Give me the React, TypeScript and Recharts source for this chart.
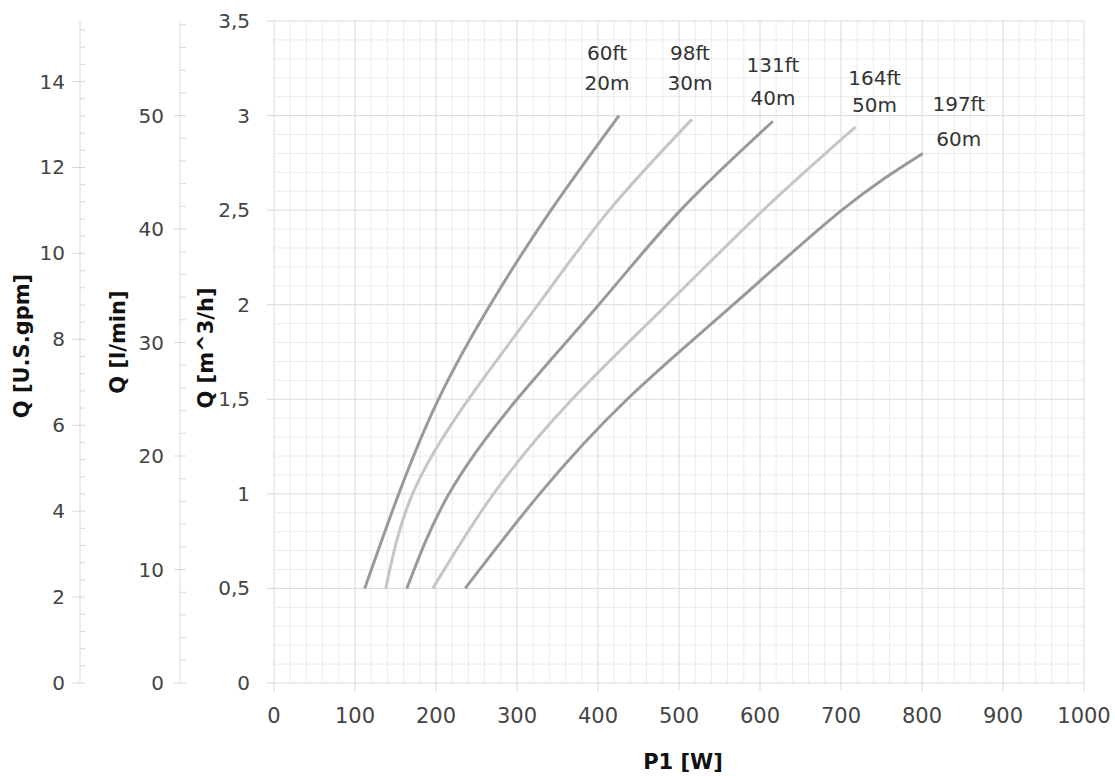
import React from 'react'
import { LineChart, Line, XAxis, YAxis, ReferenceLine } from 'recharts'

type Pt = { w: number; q: number }

// P1 [W] against Q [m^3/h], one curve per head
const curve20m: Pt[] = [
  { w: 112, q: 0.5 }, { w: 154, q: 1.0 }, { w: 203, q: 1.5 },
  { w: 267, q: 2.0 }, { w: 342, q: 2.5 }, { w: 426, q: 3.0 },
]
const curve30m: Pt[] = [
  { w: 138, q: 0.5 }, { w: 171, q: 1.0 }, { w: 240, q: 1.5 },
  { w: 326, q: 2.0 }, { w: 414, q: 2.5 }, { w: 516, q: 2.98 },
]
const curve40m: Pt[] = [
  { w: 164, q: 0.5 }, { w: 216, q: 1.0 }, { w: 300, q: 1.5 },
  { w: 401, q: 2.0 }, { w: 502, q: 2.5 }, { w: 616, q: 2.97 },
]
const curve50m: Pt[] = [
  { w: 196, q: 0.5 }, { w: 271, q: 1.0 }, { w: 368, q: 1.5 },
  { w: 485, q: 2.0 }, { w: 604, q: 2.5 }, { w: 718, q: 2.94 },
]
const curve60m: Pt[] = [
  { w: 236, q: 0.5 }, { w: 328, q: 1.0 }, { w: 436, q: 1.5 },
  { w: 567, q: 2.0 }, { w: 701, q: 2.5 }, { w: 801, q: 2.8 },
]

const curves = [curve20m, curve30m, curve40m, curve50m, curve60m]
const headFt = ['60ft', '98ft', '131ft', '164ft', '197ft']
const headM = ['20m', '30m', '40m', '50m', '60m']

const wTicks = [0, 100, 200, 300, 400, 500, 600, 700, 800, 900, 1000]
const m3Ticks = [0, 0.5, 1, 1.5, 2, 2.5, 3, 3.5]
const lminTicks = [0, 10, 20, 30, 40, 50]
const gpmTicks = [0, 2, 4, 6, 8, 10, 12, 14]

// 1 m^3/h = 16.667 l/min = 4.403 US gpm
const Q_MAX = 3.5
const LMIN_MAX = 58.333
const GPM_MAX = 15.41

const steps = (from: number, to: number, step: number) => {
  const out: number[] = []
  for (let v = from; v <= to + 1e-9; v += step) out.push(Math.round(v * 1000) / 1000)
  return out
}
const gridW = steps(0, 1000, 20)
const gridQ = steps(0, 3.5, 0.1)
const lminMinor = steps(0, 58, 2)
const gpmMinor = steps(0, 15.2, 0.4)

// styles
const curveColors = ['#9a9a9a', '#c6c6c6', '#9a9a9a', '#c6c6c6', '#9a9a9a']
const labelOffsets = [
  [-12, -63, -33],
  [-2, -66, -36],
  [0, -56, -23],
  [19, -49, -22],
  [36, -49, -14],
]
const FONT = '"DejaVu Sans", sans-serif'
const isMajor = (list: number[], v: number) => list.some((m) => Math.abs(m - v) < 1e-6)
const comma = (v: number) => String(v).replace('.', ',')

function axisTick(majors: number[], fmt: (v: number) => string, majIn: number, majOut: number, minOut: number, gap: number) {
  return (props: any) => {
    const { x, y, payload } = props
    const v = payload.value
    const major = isMajor(majors, v)
    return (
      <g>
        <line x1={x - (major ? majIn : 0)} x2={x + (major ? majOut : minOut)} y1={y} y2={y} stroke="#d8d8d8" />
        {major && (
          <text x={x - gap} y={y} textAnchor="end" dominantBaseline="central" fontSize={20} fontFamily={FONT} fill="#444">
            {fmt(v)}
          </text>
        )}
      </g>
    )
  }
}

function axisTitle(text: string, dx: number, dy: number) {
  return (props: any) => {
    const vb = props.viewBox
    const cx = vb.x + dx
    const cy = vb.y + vb.height / 2 + dy
    return (
      <text x={cx} y={cy} transform={`rotate(-90 ${cx} ${cy})`} textAnchor="middle" dominantBaseline="central"
        fontSize={21} fontWeight="bold" fontFamily={FONT} fill="#111">
        {text}
      </text>
    )
  }
}

function headLabel(i: number, last: number) {
  return (props: any) => {
    const { x, y, index } = props
    if (index !== last) return null
    const [dx, dy1, dy2] = labelOffsets[i]
    return (
      <g fontSize={20} fontFamily={FONT} fill="#333" textAnchor="middle">
        <text x={x + dx} y={y + dy1} dominantBaseline="central">{headFt[i]}</text>
        <text x={x + dx} y={y + dy2} dominantBaseline="central">{headM[i]}</text>
      </g>
    )
  }
}

export default function App() {
  return (
    <div style={{ position: 'absolute', left: 0, top: 0 }}>
      <LineChart width={1115} height={776} margin={{ top: 21, right: 31, bottom: 33, left: 0 }} style={{ fontFamily: FONT }}>
        <XAxis
          xAxisId="w" dataKey="w" type="number" domain={[0, 1000]} ticks={wTicks} allowDataOverflow
          axisLine={false} tickSize={8} tickMargin={17} tickLine={{ stroke: '#d8d8d8' }}
          tick={{ fill: '#444', fontSize: 21, fontFamily: FONT }} height={60}
          label={(p: any) => (
            <text x={p.viewBox.x + p.viewBox.width / 2 + 4} y={p.viewBox.y + 86} textAnchor="middle"
              fontSize={21} fontWeight="bold" fontFamily={FONT} fill="#111">P1 [W]</text>
          )}
        />
        {/* left axes are stacked by id: a_ next to the plot, c_ outermost */}
        <YAxis
          yAxisId="a_m3" type="number" domain={[0, Q_MAX]} ticks={m3Ticks} allowDataOverflow width={94}
          axisLine={false} tickLine={false} tickSize={0} tickMargin={0}
          tick={axisTick(m3Ticks, comma, 7, 0, 0, 24)}
          label={axisTitle('Q [m^3/h]', 26, -4)}
        />
        <YAxis
          yAxisId="b_lmin" type="number" domain={[0, LMIN_MAX]} ticks={lminMinor} allowDataOverflow width={100}
          axisLine={{ stroke: '#dcdcdc' }} tickLine={false} tickSize={0} tickMargin={0} interval={0}
          tick={axisTick(lminTicks, String, 6, 6, 6, 16)}
          label={axisTitle('Q [l/min]', 38, -10)}
        />
        <YAxis
          yAxisId="c_gpm" type="number" domain={[0, GPM_MAX]} ticks={gpmMinor} allowDataOverflow width={80}
          axisLine={{ stroke: '#dcdcdc' }} tickLine={false} tickSize={0} tickMargin={0} interval={0}
          tick={axisTick(gpmTicks, String, 8, 5, 5, 15)}
          label={axisTitle('Q [U.S.gpm]', 22, -6)}
        />

        {gridW.filter((v) => !isMajor(wTicks, v)).map((v) => (
          <ReferenceLine key={'vx' + v} xAxisId="w" yAxisId="a_m3" x={v} stroke="#ececec" strokeWidth={1} />
        ))}
        {gridQ.filter((v) => !isMajor(m3Ticks, v)).map((v) => (
          <ReferenceLine key={'hy' + v} xAxisId="w" yAxisId="a_m3" y={v} stroke="#ececec" strokeWidth={1} />
        ))}
        {wTicks.map((v) => (
          <ReferenceLine key={'VX' + v} xAxisId="w" yAxisId="a_m3" x={v} stroke="#dadada" strokeWidth={1} />
        ))}
        {m3Ticks.map((v) => (
          <ReferenceLine key={'HY' + v} xAxisId="w" yAxisId="a_m3" y={v} stroke="#dadada" strokeWidth={1} />
        ))}

        {curves.map((c, i) => (
          <Line
            key={headM[i]} xAxisId="w" yAxisId="a_m3" data={c} dataKey="q" type="natural"
            stroke={curveColors[i]} strokeWidth={3} dot={false} activeDot={false}
            isAnimationActive={false} label={headLabel(i, c.length - 1)}
          />
        ))}
      </LineChart>
    </div>
  )
}
